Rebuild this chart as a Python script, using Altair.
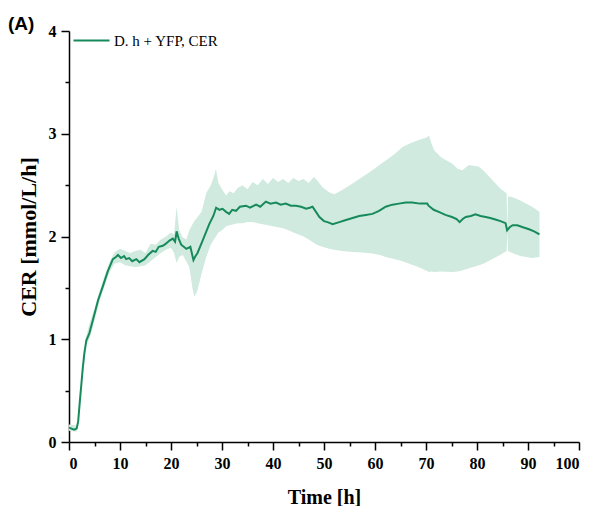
import altair as alt
import pandas as pd

series_name = "D. h + YFP, CER"
panel_label = "(A)"

# Mean CER trace
time_h = [0, 0.5, 1.0, 1.5, 1.8, 2.1, 2.4, 2.7, 3.0, 3.4, 4.0, 4.7, 5.7, 6.6, 7.6, 8.6, 9.2, 9.6,
          10.2, 10.8, 11.2, 11.8, 12.4, 13.2, 13.8, 14.8, 15.5, 16.4, 17.0, 17.6, 18.4, 19.0, 19.7,
          20.35, 20.8, 21.1, 21.5, 22.0, 22.5, 23.0, 23.8, 24.4, 24.7, 25.2, 26.2, 27.5, 28.3, 28.85,
          29.5, 30.1, 30.8, 31.4, 32.0, 32.75, 33.5, 34.7, 35.5, 36.7, 37.5, 38.6, 39.5, 40.6, 41.5,
          42.5, 43.5, 44.5, 45.5, 46.5, 47.2, 47.75, 48.3, 49.1, 50.0, 50.7, 51.7, 53.0, 54.3, 55.6,
          56.9, 58.2, 59.5, 60.8, 62.1, 63.4, 64.7, 66.0, 67.3, 68.8, 70.25, 70.5, 71.5, 72.5, 73.8,
          75.1, 76.0, 76.6, 77.2, 77.8, 78.8, 79.7, 80.7, 81.7, 82.6, 83.6, 84.6, 85.6, 85.9, 86.4,
          87.0, 87.9, 89.0, 90.2, 91.2, 92.25]
cer_mean = [0.14, 0.13, 0.12, 0.13, 0.20, 0.38, 0.55, 0.72, 0.86, 0.99, 1.06, 1.19, 1.38, 1.51, 1.66,
            1.78, 1.80, 1.82, 1.79, 1.81, 1.78, 1.79, 1.76, 1.78, 1.75, 1.78, 1.82, 1.86, 1.85, 1.90,
            1.91, 1.93, 1.96, 1.98, 1.95, 2.05, 1.98, 1.92, 1.90, 1.88, 1.90, 1.77, 1.80, 1.84, 1.96,
            2.12, 2.20, 2.28, 2.26, 2.27, 2.24, 2.22, 2.26, 2.25, 2.29, 2.30, 2.28, 2.31, 2.29, 2.34,
            2.32, 2.33, 2.31, 2.32, 2.30, 2.30, 2.29, 2.27, 2.28, 2.29, 2.25, 2.19, 2.15, 2.14, 2.12,
            2.14, 2.16, 2.18, 2.20, 2.21, 2.22, 2.25, 2.29, 2.31, 2.32, 2.33, 2.33, 2.32, 2.32, 2.30,
            2.26, 2.24, 2.21, 2.19, 2.17, 2.14, 2.17, 2.19, 2.20, 2.215, 2.20, 2.19, 2.18, 2.165, 2.15,
            2.13, 2.06, 2.09, 2.11, 2.11, 2.09, 2.07, 2.05, 2.02]

# Standard-deviation band
band_t = [0, 1.5, 1.8, 2.1, 2.5, 3.4, 4.0, 5.0, 6.0, 7.0, 8.0, 9.0, 10, 11, 12, 13, 14, 15, 16, 17,
          18, 19, 20, 20.6, 21.1, 21.6, 22.3, 23.0, 23.6, 24.2, 24.6, 25.2, 26.0, 26.9, 27.8, 28.4,
          28.8, 29.3, 30.0, 30.8, 31.5, 32.3, 33.0, 34.0, 35.0, 36.0, 37.0, 38.0, 39.0, 40.0, 41.0,
          42.0, 43.0, 44.0, 45.0, 46.0, 47.0, 48.0, 48.6, 49.7, 51.0, 52.0, 53.5, 55.6, 57.5, 59.5,
          61.0, 62.1, 63.8, 65.4, 67.0, 68.6, 70.0, 70.6, 71.1, 71.6, 73.0, 75.1, 76.2, 77.1, 78.4,
          80.4, 81.5, 83.0, 84.5, 85.8, 85.95, 86.1, 86.9, 88.5, 90.8, 92.25]
band_upper = [0.17, 0.16, 0.23, 0.42, 0.66, 1.03, 1.15, 1.30, 1.47, 1.62, 1.76, 1.85, 1.88, 1.86,
              1.84, 1.86, 1.87, 1.84, 1.93, 1.92, 1.97, 2.00, 2.04, 2.02, 2.29, 2.06, 1.99, 1.97,
              2.06, 2.12, 2.15, 2.19, 2.24, 2.42, 2.50, 2.58, 2.66, 2.52, 2.46, 2.40, 2.44, 2.42,
              2.47, 2.50, 2.46, 2.53, 2.50, 2.56, 2.51, 2.57, 2.53, 2.56, 2.52, 2.57, 2.54, 2.56,
              2.52, 2.58, 2.55, 2.48, 2.43, 2.41, 2.45, 2.515, 2.58, 2.645, 2.70, 2.74, 2.80, 2.87,
              2.91, 2.94, 2.96, 2.98, 2.90, 2.84, 2.77, 2.71, 2.66, 2.645, 2.695, 2.68, 2.63, 2.55,
              2.47, 2.42, 2.08, 2.39, 2.385, 2.35, 2.29, 2.24]
band_lower = [0.11, 0.10, 0.17, 0.34, 0.56, 0.95, 1.00, 1.18, 1.37, 1.52, 1.66, 1.74, 1.75, 1.72,
              1.71, 1.70, 1.71, 1.72, 1.76, 1.80, 1.84, 1.87, 1.89, 1.84, 1.74, 1.80, 1.82, 1.76,
              1.70, 1.50, 1.41, 1.48, 1.64, 1.80, 1.92, 1.97, 2.00, 2.04, 2.06, 2.10, 2.11, 2.12,
              2.13, 2.13, 2.14, 2.14, 2.13, 2.12, 2.11, 2.10, 2.09, 2.08, 2.06, 2.04, 2.02, 2.00,
              1.97, 1.94, 1.92, 1.90, 1.88, 1.87, 1.86, 1.85, 1.845, 1.835, 1.82, 1.80, 1.78, 1.76,
              1.73, 1.70, 1.67, 1.655, 1.66, 1.655, 1.66, 1.655, 1.66, 1.67, 1.69, 1.72, 1.74, 1.78,
              1.82, 1.86, 2.04, 1.86, 1.84, 1.81, 1.79, 1.80]

x_major = [0, 10, 20, 30, 40, 50, 60, 70, 80, 90, 100]
x_minor = [5, 15, 25, 35, 45, 55, 65, 75, 85, 95]
y_major = [0, 1, 2, 3, 4]
y_minor = [0.5, 1.5, 2.5, 3.5]

line_color = "#178a5c"
band_color = "#d0eadf"
serif = "Liberation Serif"

line_df = pd.DataFrame({"t": time_h, "v": cer_mean, "s": series_name})
band_df = pd.DataFrame({"t": band_t, "hi": band_upper, "lo": band_lower})
label_df = pd.DataFrame({"label": [panel_label]})

xs = alt.Scale(domain=[0, 100], nice=False, zero=False)
ys = alt.Scale(domain=[0, 4], nice=False, zero=False)

axis_common = dict(domainColor="black", domainWidth=1.5, tickColor="black", tickWidth=1.5,
                   labelFont=serif, labelFontWeight="bold", labelFontSize=16, labelColor="black",
                   titleFont=serif, titleFontWeight="bold", titleColor="black", grid=False)

band = alt.Chart(band_df).mark_area(color=band_color, opacity=1).encode(
    x=alt.X("t:Q", scale=xs, axis=alt.Axis(values=x_major, tickSize=8, labelPadding=5,
                                           title="Time [h]", titleFontSize=20, titlePadding=16,
                                           orient="bottom", **axis_common)),
    y=alt.Y("lo:Q", scale=ys, axis=alt.Axis(values=y_major, tickSize=8, labelPadding=5,
                                            title="CER [mmol/L/h]", titleFontSize=22,
                                            titlePadding=8, orient="left", **axis_common)),
    y2="hi:Q",
)

line = alt.Chart(line_df).mark_line(strokeWidth=2).encode(
    x=alt.X("t:Q", scale=xs, axis=None),
    y=alt.Y("v:Q", scale=ys, axis=None),
    color=alt.Color("s:N", scale=alt.Scale(domain=[series_name], range=[line_color]),
                    legend=alt.Legend(title=None, orient="none", legendX=3, legendY=-10,
                                      symbolType="stroke", symbolSize=1300,
                                      symbolStrokeWidth=2, labelFont=serif, labelFontSize=15,
                                      labelColor="black", labelOffset=3, padding=0)),
)

minor = alt.Chart(band_df).mark_point(opacity=0).encode(
    x=alt.X("t:Q", scale=xs, axis=alt.Axis(values=x_minor, tickSize=4, labels=False,
                                           domain=False, title=None, orient="bottom",
                                           tickColor="black", tickWidth=1.5, grid=False)),
    y=alt.Y("lo:Q", scale=ys, axis=alt.Axis(values=y_minor, tickSize=4, labels=False,
                                            domain=False, title=None, orient="left",
                                            tickColor="black", tickWidth=1.5, grid=False)),
)

label = alt.Chart(label_df).mark_text(align="left", baseline="middle", font="Liberation Sans",
                                      fontWeight="bold", fontSize=19, color="black").encode(
    x=alt.value(-61), y=alt.value(-7), text="label:N"
)

chart = alt.layer(band, line, minor, label).resolve_axis(
    x="independent", y="independent"
).properties(
    width=510, height=411,
    background="white",
    autosize=alt.AutoSizeParams(type="none"),
    padding={"left": 61, "top": 23, "right": 7, "bottom": 66},
).configure_view(stroke="transparent", strokeWidth=0)

chart.save("out.html", embed_options={"renderer": "svg", "actions": False})
